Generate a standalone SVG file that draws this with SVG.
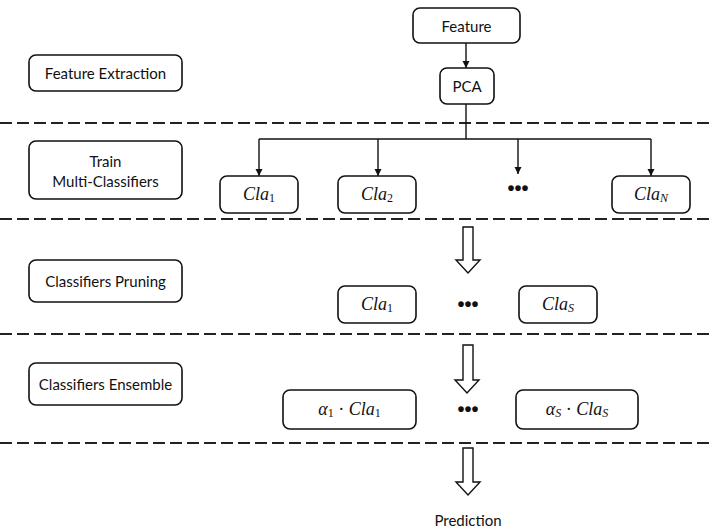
<svg xmlns="http://www.w3.org/2000/svg" width="714" height="532" viewBox="0 0 714 532">
  <defs>
    <marker id="tip" markerWidth="8" markerHeight="8" refX="7" refY="4" orient="auto" markerUnits="userSpaceOnUse">
      <path d="M0,0.5 L7,4 L0,7.5 Z" fill="#111"/>
    </marker>
    <style>
      .box{fill:#fff;stroke:#111;stroke-width:1.6}
      .lbl{font-family:Lato,"Open Sans","Liberation Sans",sans-serif;font-size:15px;fill:#111;text-anchor:middle;dominant-baseline:central}
      .math{font-family:"Liberation Serif","DejaVu Serif",serif;font-style:italic;font-size:18px;fill:#111;text-anchor:middle;dominant-baseline:central}
      .sub{font-size:12px}
      .dots{font-family:"Liberation Sans",sans-serif;font-size:20px;font-weight:bold;fill:#111;text-anchor:middle;dominant-baseline:central}
      .sep{stroke:#222;stroke-width:2;stroke-dasharray:12 5;fill:none}
      .wire{stroke:#111;stroke-width:1.4;fill:none}
      .fat{fill:#fff;stroke:#111;stroke-width:1.4}
    </style>
  </defs>

  <!-- stage separators -->
  <g id="separators">
    <line class="sep" x1="0" y1="123" x2="714" y2="123"/>
    <line class="sep" x1="0" y1="219" x2="714" y2="219"/>
    <line class="sep" x1="0" y1="334" x2="714" y2="334"/>
    <line class="sep" x1="0" y1="443" x2="714" y2="443"/>
  </g>

  <!-- stage titles -->
  <g id="stage-extraction">
    <rect class="box" x="29" y="55" width="153" height="36" rx="7"/>
    <text class="lbl" x="105.5" y="73">Feature Extraction</text>
  </g>
  <g id="stage-train">
    <rect class="box" x="29" y="141" width="153" height="58" rx="7"/>
    <text class="lbl" x="105.5" y="161">Train</text>
    <text class="lbl" x="105.5" y="181">Multi-Classifiers</text>
  </g>
  <g id="stage-pruning">
    <rect class="box" x="29" y="260" width="153" height="42" rx="7"/>
    <text class="lbl" x="105.5" y="281">Classifiers Pruning</text>
  </g>
  <g id="stage-ensemble">
    <rect class="box" x="29" y="363" width="153" height="42" rx="7"/>
    <text class="lbl" x="105.5" y="384">Classifiers Ensemble</text>
  </g>

  <!-- connectors -->
  <g id="connectors">
    <line class="wire" x1="466" y1="43" x2="466" y2="68" marker-end="url(#tip)"/>
    <line class="wire" x1="466" y1="104" x2="466" y2="139"/>
    <line class="wire" x1="259" y1="139" x2="651" y2="139"/>
    <line class="wire" x1="259" y1="139" x2="259" y2="176" marker-end="url(#tip)"/>
    <line class="wire" x1="378" y1="139" x2="378" y2="176" marker-end="url(#tip)"/>
    <line class="wire" x1="518" y1="139" x2="518" y2="174" marker-end="url(#tip)"/>
    <line class="wire" x1="651" y1="139" x2="651" y2="176" marker-end="url(#tip)"/>
    <path class="fat" d="M463,227 H473 V260 H480 L468,273 L456,260 H463 Z"/>
    <path class="fat" d="M463,345 H473 V380 H479 L467,393 L455,380 H463 Z"/>
    <path class="fat" d="M463,448 H473 V482 H480 L468,495 L456,482 H463 Z"/>
  </g>

  <!-- feature input -->
  <g id="feature">
    <rect class="box" x="413" y="8" width="107" height="35" rx="7"/>
    <text class="lbl" x="466.5" y="26">Feature</text>
  </g>
  <g id="pca">
    <rect class="box" x="440" y="68" width="54" height="36" rx="7"/>
    <text class="lbl" x="467" y="86">PCA</text>
  </g>

  <!-- trained classifiers -->
  <g id="cla-1">
    <rect class="box" x="220" y="176" width="78" height="37" rx="7"/>
    <text class="math" x="259" y="194">Cla<tspan class="sub" dy="4" font-style="normal">1</tspan></text>
  </g>
  <g id="cla-2">
    <rect class="box" x="338" y="176" width="78" height="37" rx="7"/>
    <text class="math" x="377" y="194">Cla<tspan class="sub" dy="4" font-style="normal">2</tspan></text>
  </g>
  <g id="cla-dots">
    <text class="dots" x="518" y="188">•••</text>
  </g>
  <g id="cla-n">
    <rect class="box" x="612" y="176" width="78" height="37" rx="7"/>
    <text class="math" x="651" y="194">Cla<tspan class="sub" dy="4">N</tspan></text>
  </g>

  <!-- pruned classifiers -->
  <g id="pruned-1">
    <rect class="box" x="338" y="286" width="78" height="37" rx="7"/>
    <text class="math" x="377" y="304">Cla<tspan class="sub" dy="4" font-style="normal">1</tspan></text>
  </g>
  <g id="pruned-dots">
    <text class="dots" x="468" y="304">•••</text>
  </g>
  <g id="pruned-s">
    <rect class="box" x="519" y="286" width="78" height="37" rx="7"/>
    <text class="math" x="558" y="304">Cla<tspan class="sub" dy="4">S</tspan></text>
  </g>

  <!-- weighted ensemble -->
  <g id="weighted-1">
    <rect class="box" x="283" y="390" width="133" height="39" rx="7"/>
    <text class="math" x="349.5" y="409">α<tspan class="sub" dy="4" font-style="normal">1</tspan><tspan dy="-4" font-style="normal"> · </tspan>Cla<tspan class="sub" dy="4" font-style="normal">1</tspan></text>
  </g>
  <g id="weighted-dots">
    <text class="dots" x="468" y="409">•••</text>
  </g>
  <g id="weighted-s">
    <rect class="box" x="516" y="390" width="122" height="39" rx="7"/>
    <text class="math" x="577" y="409">α<tspan class="sub" dy="4">S</tspan><tspan dy="-4" font-style="normal"> · </tspan>Cla<tspan class="sub" dy="4">S</tspan></text>
  </g>

  <!-- output -->
  <g id="prediction">
    <text class="lbl" x="468" y="520">Prediction</text>
  </g>
</svg>
